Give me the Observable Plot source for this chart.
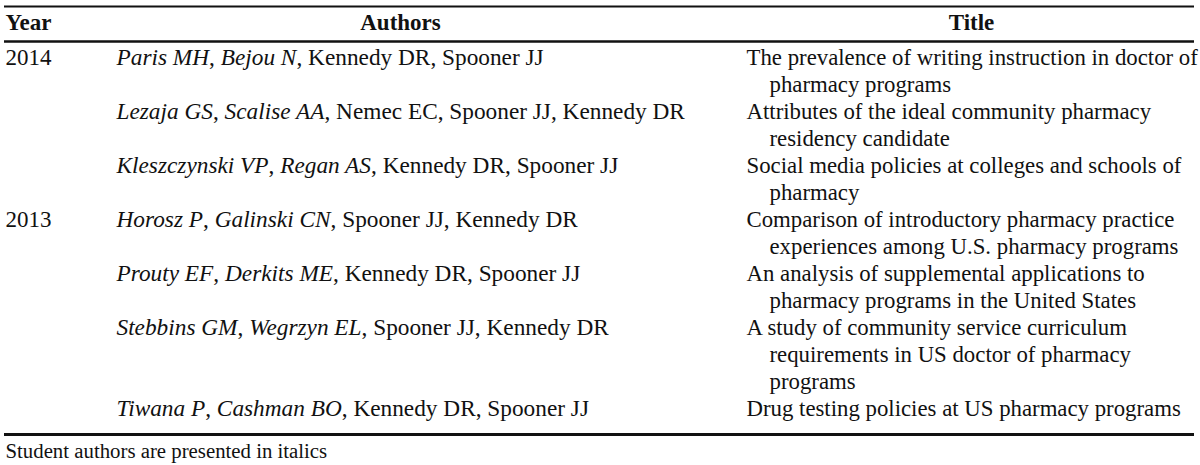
<!DOCTYPE html>
<html>
<head>
<meta charset="utf-8">
<script src="https://cdn.jsdelivr.net/npm/d3@7"></script>
<script src="https://cdn.jsdelivr.net/npm/@observablehq/plot@0.6"></script>
<style>
  html, body { margin: 0; padding: 0; background: #fff; }
  svg { display: block; }
</style>
</head>
<body>
<div id="chart"></div>
<script>
// ---- data ----
const headers = ["Year", "Authors", "Title"];
const years = ["2014", "", "", "2013", "", "", ""];
const students = [
  ["Paris MH", "Bejou N"],
  ["Lezaja GS", "Scalise AA"],
  ["Kleszczynski VP", "Regan AS"],
  ["Horosz P", "Galinski CN"],
  ["Prouty EF", "Derkits ME"],
  ["Stebbins GM", "Wegrzyn EL"],
  ["Tiwana P", "Cashman BO"]
];
const faculty = [
  ["Kennedy DR", "Spooner JJ"],
  ["Nemec EC", "Spooner JJ", "Kennedy DR"],
  ["Kennedy DR", "Spooner JJ"],
  ["Spooner JJ", "Kennedy DR"],
  ["Kennedy DR", "Spooner JJ"],
  ["Spooner JJ", "Kennedy DR"],
  ["Kennedy DR", "Spooner JJ"]
];
const titles = [
  ["The prevalence of writing instruction in doctor of", "pharmacy programs"],
  ["Attributes of the ideal community pharmacy", "residency candidate"],
  ["Social media policies at colleges and schools of", "pharmacy"],
  ["Comparison of introductory pharmacy practice", "experiences among U.S. pharmacy programs"],
  ["An analysis of supplemental applications to", "pharmacy programs in the United States"],
  ["A study of community service curriculum", "requirements in US doctor of pharmacy", "programs"],
  ["Drug testing policies at US pharmacy programs"]
];
const footnote = "Student authors are presented in italics";

// ---- layout (not data) ----
const W = 1200, H = 465;
const colX = {Year: 5, Authors: 116, Title: 746, indent: 769};
const headX = {Year: 5, Authors: 400, Title: 971};
const headAnchor = {Year: "start", Authors: "middle", Title: "middle"};
const firstLinePx = 57, linePx = 27;   // line index -> pixel
const ruleX = [4, 1194];
const lineY = {header: -1.30, topRule: -1.885, headRule: -0.59, bottomRule: 13.96, foot: 14.6};
const FS = 23, AUTH_FS = 23.3, TITLE_FS = 22.8, FOOT_FS = 20.8;

// ---- build tables ----
const rows = [];
const titleLines = [];
let line = 0;
titles.forEach((t, i) => {
  const segs = [];
  students[i].forEach((s, k) => { if (k) segs.push({t: ", ", it: false}); segs.push({t: s, it: true}); });
  faculty[i].forEach(f => { segs.push({t: ", ", it: false}); segs.push({t: f, it: false}); });
  rows.push({line, year: years[i], authors: segs.map(d => d.t).join(""), segs});
  t.forEach((txt, k) => titleLines.push({line: line + k, text: txt, x: k === 0 ? colX.Title : colX.indent}));
  line += t.length;
});
const headerRows = headers.map(h => ({text: h, x: headX[h], anchor: headAnchor[h]}));
const rules = [
  {y: lineY.topRule, w: 2},
  {y: lineY.headRule, w: 2.5},
  {y: lineY.bottomRule, w: 3}
];

const font = "Liberation Serif, Times New Roman, serif";
const yDomain = [-firstLinePx / linePx, (H - firstLinePx) / linePx];

const chart = Plot.plot({
  width: W, height: H,
  margin: 0,
  style: {fontFamily: font, background: "#fff", color: "#111"},
  x: {domain: [0, W], range: [0, W], axis: null},
  y: {domain: yDomain, range: [0, H], axis: null},
  marks: [
    ...rules.map(r => Plot.ruleY([r.y], {x1: ruleX[0], x2: ruleX[1], stroke: "#111", strokeWidth: r.w})),
    Plot.text(headerRows.filter(d => d.anchor === "start"), {x: "x", y: () => lineY.header, text: "text", textAnchor: "start", fontSize: FS, fontWeight: "bold", fill: "#111"}),
    Plot.text(headerRows.filter(d => d.anchor !== "start"), {x: "x", y: () => lineY.header, text: "text", textAnchor: "middle", fontSize: FS, fontWeight: "bold", fill: "#111"}),
    Plot.text(rows.filter(d => d.year), {x: () => colX.Year, y: "line", text: "year", textAnchor: "start", fontSize: FS, fill: "#111"}),
    Plot.text(rows, {x: () => colX.Authors, y: "line", text: "authors", textAnchor: "start", fontSize: AUTH_FS, fill: "#111"}),
    Plot.text(titleLines, {x: "x", y: "line", text: "text", textAnchor: "start", fontSize: TITLE_FS, fill: "#111"}),
    Plot.text([footnote], {x: () => colX.Year, y: () => lineY.foot, text: d => d, textAnchor: "start", fontSize: FOOT_FS, fill: "#111"})
  ]
});

// mixed italic/upright author names: rebuild author text nodes as tspans
const segMap = new Map(rows.map(r => [r.authors, r.segs]));
d3.select(chart).selectAll("text").each(function() {
  const segs = segMap.get(this.textContent);
  if (!segs) return;
  const t = d3.select(this);
  t.text(null);
  segs.forEach(s => t.append("tspan").attr("font-style", s.it ? "italic" : "normal").text(s.t));
});

document.getElementById("chart").appendChild(chart);
</script>
</body>
</html>
